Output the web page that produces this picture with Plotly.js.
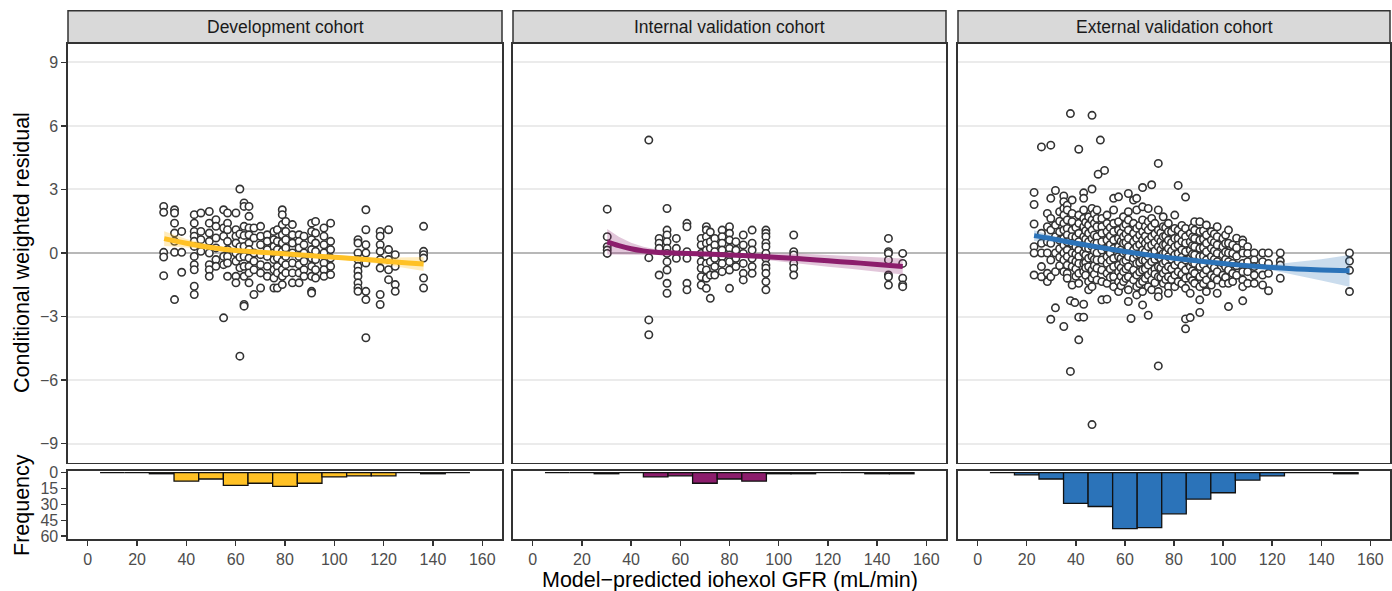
<!DOCTYPE html>
<html><head><meta charset="utf-8">
<script src="https://cdn.plot.ly/plotly-3.0.1.min.js"></script>
<style>html,body{margin:0;padding:0;background:#fff}#chart{width:1392px;height:591px}</style>
</head><body><div id="chart"></div>
<script>
// ---------------- DATA ----------------
const cohortNames = ['Development cohort', 'Internal validation cohort', 'External validation cohort'];
const cohortColors = ['#FFC125', '#8C1D6C', '#2B73B9'];
const bandColors = ['rgba(255,193,37,0.30)', 'rgba(140,29,108,0.25)', 'rgba(43,115,185,0.25)'];

// histogram bins (centres, width 10) and patient counts
const binCenters = [10, 20, 30, 40, 50, 60, 70, 80, 90, 100, 110, 120, 130, 140, 150];
const devCounts = [0, 0, 1, 8, 6, 12, 10, 13, 10, 4, 3, 3, 0, 1, 0];
const intCounts = [0, 0, 1, 0, 4, 3, 10, 6, 8, 1, 1, 0, 0, 1, 1];
const extCounts = [0, 2, 6, 29, 32, 53, 52, 39, 25, 19, 7, 3, 0, 0, 1];

// scatter: model-predicted GFR per individual and its residuals
const devGFR = [30.8, 35.2, 38.1, 43.2, 45.9, 49.3, 52.0, 55.1, 56.7, 60.1, 61.7, 63.4, 65.4, 67.4, 70.1, 72.8, 75.5, 76.9, 78.9, 80.3, 83.0, 85.7, 87.7, 90.8, 92.4, 95.8, 98.5, 109.6, 112.8, 118.6, 122.0, 124.7, 136.2];
const devResid = [
  [2.2, 1.92, 0.03, -0.19, -1.07],
  [2.04, 1.89, 1.41, 0.94, 0.55, 0.03, -2.2],
  [1.02, 0.03, -0.91],
  [1.81, 1.41, 1.02, 0.79, 0.55, 0.31, -0.16, -0.55, -0.79, -1.57, -1.96],
  [1.89, 1.02, 0.63, 0.08],
  [1.96, 1.41, 0.94, 0.55, 0, -0.55, -0.79, -1.1],
  [1.57, 1.26, 0.71, 0.24, -0.31, -0.63],
  [2.04, 1.18, 0.79, -0.16, -0.55, -3.06],
  [1.89, 1.41, 1.1, 0.55, 0.16, -0.16, -0.47, -1.1],
  [1.89, 1.1, 0.79, 0.47, 0, -0.39, -1.1, -1.41],
  [3.02, 0.9, 0.3, -0.2, -0.7, -4.87],
  [2.36, 2.2, 1.26, 0.83, 0.31, -0.16, -0.63, -1.1, -2.43, -2.51],
  [2.2, 1.73, 1.18, 0.86, 0.47, 0.16, -0.24, -0.63, -0.94, -1.41],
  [1.18, 0.71, 0, -0.39, -0.79, -1.96],
  [1.26, 0.79, 0.39, -0.08, -0.55, -0.94, -1.65],
  [0.86, 0.55, 0.16, -0.16, -0.63, -1.1],
  [1.02, 0.63, 0.31, 0, -0.31, -0.79, -1.18, -1.65],
  [1.1, 0.55, 0.16, -0.24, -0.63, -0.94, -1.65],
  [2.04, 1.81, 1.34, 0.86, 0.47, 0.08, -0.39, -0.79, -1.1, -1.49],
  [1.49, 1.02, 0.63, 0.24, -0.16, -0.55, -0.94],
  [1.34, 0.86, 0.47, 0, -0.47, -0.94, -1.41],
  [0.86, 0.55, 0.24, -0.16, -0.55, -0.94, -1.41],
  [0.79, 0.39, 0, -0.39, -0.79, -1.1],
  [1.41, 1.02, 0.63, 0.16, -0.24, -0.63, -1.1, -1.81, -1.89],
  [1.49, 0.94, 0.47, 0.08, -0.31, -0.79, -1.18],
  [1.18, 0.79, 0.39, 0, -0.47, -0.79, -1.1],
  [1.41, 0.55, 0.16, -0.24, -0.63, -1.02],
  [0.63, 0.47, 0, -0.31, -0.63, -0.86, -1.1, -1.41, -1.65, -1.81],
  [2.04, 1.1, 0.39, 0, -0.47, -1.81, -2.2, -4.0],
  [1.02, 0.79, 0.39, 0.08, -0.31, -0.71, -1.96, -2.43],
  [1.1, 0.16, -0.31, -0.79, -1.26],
  [-0.08, -0.63, -1.49, -1.81],
  [1.26, 0.08, -0.08, -0.24, -1.18, -1.65]
];

const intGFR = [30.3, 47.2, 51.4, 54.6, 58.4, 62.7, 68.5, 70.6, 72.2, 74.0, 77.0, 80.0, 82.6, 85.6, 89.2, 94.8, 106.1, 144.6, 150.4];
const intResid = [
  [2.07, 0.77, 0.3, 0.14, -0.02],
  [5.33, -0.22, -3.16, -3.86],
  [0.69, 0.46, 0.22, -1.04],
  [2.1, 1.08, 0.85, 0.53, 0.22, -0.02, -0.41, -0.8, -1.43, -1.9],
  [0.69, 0.22, -0.25],
  [1.4, 1.24, 0.06, -0.25, -1.43, -1.74],
  [0.69, 0.38, -0.02, -0.41, -0.72, -1.12, -1.51],
  [1.24, 1.08, 0.77, 0.46, 0.14, -0.17, -0.49, -0.8, -1.19, -1.67],
  [0.99, 0.53, 0.22, -0.41, -1.04, -2.14],
  [0.69, 0.38, 0.06, -0.25, -0.64, -1.04],
  [1.08, 0.77, 0.46, 0.14, -0.17, -0.49, -0.88],
  [1.24, 0.93, 0.61, 0.22, -0.09, -0.41, -0.8, -1.67],
  [0.53, 0.14, -0.25, -0.64],
  [0.85, 0.38, -0.02, -0.49, -0.96, -1.27],
  [1.08, 0.46, 0.14, -0.25, -0.64, -0.96],
  [1.08, 0.93, 0.77, 0.46, 0.3, -0.02, -0.25, -0.57, -0.72, -0.96, -1.35, -1.74],
  [0.85, 0.06, -0.09, -0.49, -0.72, -1.04],
  [0.69, 0.06, -0.02, -0.33, -1.04, -1.12, -1.51],
  [-0.02, -0.49, -1.19, -1.51, -1.59]
];

const extGFR = [23.0, 26.0, 28.4, 29.8, 31.7, 33.4, 35.1, 36.5, 37.8, 38.5, 39.6, 40.0, 41.2, 43.2, 44.0, 45.2, 46.6, 47.5, 48.6, 49.1, 50.0, 50.6, 51.7, 52.7, 54.0, 55.4, 57.4, 58.4, 59.4, 60.4, 61.4, 62.5, 63.5, 64.8, 66.0, 67.2, 68.3, 69.5, 70.9, 72.2, 73.6, 74.6, 75.6, 76.6, 77.7, 79.0, 80.3, 81.7, 83.2, 84.7, 86.6, 87.5, 88.4, 90.5, 92.0, 93.2, 95.2, 96.4, 97.6, 99.9, 101.0, 102.2, 103.9, 105.5, 108.0, 110.0, 112.7, 116.1, 118.5, 123.3, 151.5];
const extResid = [
  [2.86, 2.29, 1.37, 0.3, 0, -1.04],
  [5.01, 0.93, 0.46, 0, -0.64, -1.12],
  [1.87, 1.24, 0.53, 0, -0.96, -1.35],
  [5.09, 2.58, 1.63, 1.08, 0.46, -0.33, -1.12, -3.13],
  [2.95, 1.32, 0.77, 0, -0.88, -2.59],
  [1.95, 1.5, 1.0, 0.6, 0.2, -0.2, -0.6],
  [2.69, 2.42, 2.1, 1.79, 1.4, 1.08, 0.69, 0.38, 0, -0.33, -0.88, -3.47],
  [2.26, 2.03, 1.56, 1.16, 0.85, 0.53, 0.14, -0.17, -0.57, -0.96, -1.19],
  [6.58, -2.25, -5.59],
  [2.5, 1.87, 1.48, 1.08, 0.77, 0.46, 0, -0.33, -0.64, -1.51],
  [-2.34],
  [1.2, 0.75, 0.3, -0.05, -0.4, -0.75, -1.1],
  [4.9, 1.79, 1.4, 0.93, 0.53, 0.14, -0.17, -0.49, -0.96, -1.43, -3.03, -4.1],
  [2.84, 2.58, 2.03, 1.63, 1.24, 0.77, 0.38, 0, -0.49, -0.88, -2.42, -3.03],
  [1.45, 1.05, 0.65, 0.25, -0.1, -0.45, -0.7, -1.05],
  [1.71, 1.32, 0.93, 0.53, 0.22, -0.25, -0.64, -1.35, -1.74],
  [6.5, 3.02, 2.1, 1.56, 1.08, 0.69, 0.3, -0.17, -0.8, -1.19, -1.59, -8.1],
  [1.85, 1.4, 0.85, 0.45, 0.1, -0.3, -0.6, -1.0],
  [2.03, 1.63, 1.24, 0.77, 0.46, 0, -0.33, -0.72, -1.27],
  [3.72],
  [5.33],
  [1.63, 1.24, 0.93, 0.53, 0.14, -0.33, -0.8, -1.35, -2.21],
  [3.9],
  [1.79, 1.4, 1.01, 0.61, 0.22, -0.17, -0.49, -0.96, -1.43, -2.18],
  [1.2, 0.8, 0.4, 0.0, -0.35, -0.75, -1.15],
  [2.58, 2.03, 1.4, 1.01, 0.61, 0.22, -0.25, -0.64, -1.12, -1.59],
  [2.65, 1.48, 1.08, 0.69, 0.3, -0.17, -0.57, -0.88, -1.35, -1.82],
  [0.95, 0.55, 0.15, -0.25, -0.7, -1.1, -1.55],
  [1.71, 1.24, 0.77, 0.46, 0, -0.41, -0.88, -1.35],
  [1.35, 0.9, 0.5, 0.05, -0.35, -0.75, -1.2],
  [2.81, 1.95, 1.56, 1.08, 0.69, 0.3, -0.17, -0.64, -1.12, -1.74, -2.29],
  [-3.09],
  [2.5, 1.4, 0.93, 0.53, 0.14, -0.25, -0.8, -1.27],
  [2.58, 2.03, 1.16, 0.69, 0.3, -0.09, -0.49, -1.04, -1.59, -1.98],
  [1.3, 0.85, 0.4, -0.05, -0.45, -0.9, -1.45],
  [3.09, 2.18, 1.56, 1.01, 0.61, 0.14, -0.33, -0.8, -1.35, -1.82, -2.45],
  [1.25, 0.8, 0.45, 0.05, -0.35, -0.75, -1.2],
  [2.1, 1.48, 1.08, 0.61, 0.3, -0.17, -0.57, -1.04, -1.59, -2.94],
  [3.22, 1.63, 1.24, 0.77, 0.38, -0.02, -0.41, -0.88, -1.27, -1.74],
  [1.4, 0.9, 0.5, 0.1, -0.3, -0.75, -1.0, -1.4],
  [4.23, 2.03, 1.08, 0.69, 0.3, -0.17, -0.64, -1.12, -1.82, -2.06, -5.33],
  [0.95, 0.55, 0.15, -0.25, -0.7, -1.15],
  [1.71, 1.24, 0.77, 0.38, -0.02, -0.49, -0.96, -1.43],
  [1.2, 0.8, 0.4, 0.0, -0.4, -0.8, -1.25],
  [1.4, 1.01, 0.61, 0.22, -0.17, -0.64, -1.12, -1.59, -1.9],
  [1.0, 0.5, 0.1, -0.3, -0.75, -1.25],
  [1.79, 1.16, 0.69, 0.3, -0.09, -0.57, -1.04, -1.59],
  [3.19, 1.08, 0.69, 0.38, -0.02, -0.41, -0.88, -1.35],
  [1.3, 0.9, 0.55, 0.15, -0.2, -0.6, -1.0, -1.45],
  [2.64, 1.16, 0.77, 0.46, 0.06, -0.33, -0.8, -1.19, -1.67, -3.11, -3.58],
  [0.93, 0.53, 0.14, -0.25, -0.64, -1.12, -1.9, -3.05],
  [1.2, 0.75, 0.35, -0.05, -0.45, -0.85, -1.3],
  [1.48, 1.08, 0.69, 0.3, -0.09, -0.49, -0.96, -1.43],
  [1.48, 1.01, 0.61, 0.22, -0.17, -0.64, -1.12, -1.59, -2.21, -2.81],
  [1.05, 0.65, 0.25, -0.15, -0.55, -1.0, -1.45],
  [1.32, 0.85, 0.46, 0.06, -0.33, -0.8, -1.27, -1.82],
  [1.01, 0.61, 0.22, -0.17, -0.57, -1.04, -1.51],
  [0.9, 0.5, 0.1, -0.3, -0.7, -1.15],
  [1.24, 0.77, 0.38, -0.02, -0.41, -0.88, -1.27, -1.9],
  [0.69, 0.3, -0.09, -0.49, -1.04, -1.43],
  [0.85, 0.45, 0.05, -0.3, -0.65, -1.15],
  [1.08, 0.46, 0, -0.41, -0.8, -1.43, -2.53],
  [0.38, -0.02, -0.49, -0.96, -1.35],
  [0.7, 0.25, -0.15, -0.6, -1.05],
  [0.61, 0.46, 0, -0.49, -0.88, -1.27, -1.59, -2.26],
  [0.3, -0.02, -0.41, -0.88, -1.43],
  [0, -0.33, -0.64, -1.04, -1.43],
  [0, -0.41, -1.04, -1.51],
  [0, -0.49, -0.96, -1.78],
  [0, -0.38, -0.57, -1.19],
  [0, -0.38, -0.82, -1.82]
];

// smoothed trend (fitted value) with its confidence limits
const devSmoothX  = [31, 40, 50, 60, 70, 80, 90, 100, 110, 120, 130, 136.2];
const devSmoothY  = [0.68, 0.46, 0.26, 0.12, 0.04, -0.04, -0.12, -0.2, -0.28, -0.38, -0.47, -0.52];
const devSmoothLo = [0.33, 0.26, 0.14, 0.04, -0.04, -0.12, -0.2, -0.28, -0.38, -0.54, -0.72, -0.85];
const devSmoothHi = [1.03, 0.66, 0.38, 0.20, 0.12, 0.04, -0.04, -0.12, -0.18, -0.22, -0.22, -0.19];

const intSmoothX  = [30.3, 35, 40, 45, 50, 60, 70, 80, 90, 100, 110, 120, 130, 140, 150.4];
const intSmoothY  = [0.53, 0.35, 0.2, 0.1, 0.04, -0.01, -0.05, -0.09, -0.14, -0.21, -0.28, -0.37, -0.45, -0.54, -0.64];
const intSmoothLo = [-0.07, -0.07, -0.08, -0.1, -0.1, -0.11, -0.13, -0.17, -0.26, -0.39, -0.52, -0.65, -0.75, -0.87, -1.02];
const intSmoothHi = [1.13, 0.77, 0.48, 0.3, 0.18, 0.09, 0.03, -0.01, -0.02, -0.03, -0.04, -0.09, -0.15, -0.21, -0.26];

const extSmoothX  = [23, 30, 40, 50, 60, 70, 80, 90, 100, 110, 120, 130, 140, 151.5];
const extSmoothY  = [0.82, 0.68, 0.46, 0.26, 0.07, -0.1, -0.25, -0.38, -0.5, -0.6, -0.68, -0.75, -0.8, -0.84];
const extSmoothLo = [0.57, 0.53, 0.38, 0.21, 0.02, -0.15, -0.3, -0.43, -0.55, -0.66, -0.82, -1.07, -1.3, -1.59];
const extSmoothHi = [1.07, 0.83, 0.54, 0.31, 0.12, -0.05, -0.2, -0.33, -0.45, -0.54, -0.54, -0.43, -0.3, -0.09];

// axis ticks and labels
const residTicks = [-9, -6, -3, 0, 3, 6, 9];
const gfrTicks = [0, 20, 40, 60, 80, 100, 120, 140, 160];
const freqTicks = [0, 15, 30, 45, 60];
const yTitleMain = 'Conditional weighted residual';
const yTitleFreq = 'Frequency';
const xTitle = 'Model\u2212predicted iohexol GFR (mL/min)';

// ---------------- BUILD ----------------
const W = 1392, H = 591;
const panelPx = [[68, 502], [513, 946], [958, 1390]];
const stripPx = [10.7, 43.3];
const scatterPx = [43.3, 462.7];
const histPx = [471, 539];
const xd = p => [p[0] / W, p[1] / W];
const yd = p => [1 - p[1] / H, 1 - p[0] / H];
const FONT = 'Liberation Sans, Arial, Helvetica, sans-serif';
const minus = v => String(v).replace('-', '\u2212');

function flatten(cols, vals) {
  const x = [], y = [];
  cols.forEach((c, i) => vals[i].forEach(v => { x.push(c); y.push(v); }));
  return {x, y};
}

const cohorts = [
  {gfr: devGFR, res: devResid, counts: devCounts, sx: devSmoothX, sy: devSmoothY, lo: devSmoothLo, hi: devSmoothHi},
  {gfr: intGFR, res: intResid, counts: intCounts, sx: intSmoothX, sy: intSmoothY, lo: intSmoothLo, hi: intSmoothHi},
  {gfr: extGFR, res: extResid, counts: extCounts, sx: extSmoothX, sy: extSmoothY, lo: extSmoothLo, hi: extSmoothHi}
];

const traces = [];
const layout = {
  width: W, height: H, margin: {l: 0, r: 0, t: 0, b: 0},
  paper_bgcolor: '#fff', plot_bgcolor: '#fff', showlegend: false,
  font: {family: FONT},
  shapes: [], annotations: []
};

cohorts.forEach((c, i) => {
  const sxa = i === 0 ? 'x' : 'x' + (i + 1);
  const sya = i === 0 ? 'y' : 'y' + (i + 1);
  const hxa = 'x' + (i + 4), hya = 'y' + (i + 4);
  const pts = flatten(c.gfr, c.res);
  traces.push({type: 'scatter', mode: 'markers', x: pts.x, y: pts.y, xaxis: sxa, yaxis: sya,
    marker: {size: 7.4, color: '#fff', line: {color: '#333', width: 1.6}}, hoverinfo: 'skip'});
  traces.push({type: 'scatter', mode: 'lines', xaxis: sxa, yaxis: sya,
    x: c.sx.concat(c.sx.slice().reverse()), y: c.hi.concat(c.lo.slice().reverse()),
    fill: 'toself', fillcolor: bandColors[i], line: {width: 0, color: 'rgba(0,0,0,0)'}, hoverinfo: 'skip'});
  traces.push({type: 'scatter', mode: 'lines', x: c.sx, y: c.sy, xaxis: sxa, yaxis: sya,
    line: {color: cohortColors[i], width: 5, shape: 'spline'}, hoverinfo: 'skip'});
  traces.push({type: 'bar', x: binCenters, y: c.counts, width: 10, xaxis: hxa, yaxis: hya,
    marker: {color: cohortColors[i], line: {color: '#111', width: 1.3}}, hoverinfo: 'skip'});

  const axBase = {showline: true, mirror: true, linecolor: '#333', linewidth: 1.6,
    tickfont: {size: 16, color: '#4D4D4D', family: FONT}, ticklen: 5, tickwidth: 1.4, tickcolor: '#333'};
  const sk = i === 0 ? 'xaxis' : 'xaxis' + (i + 1);
  const yk = i === 0 ? 'yaxis' : 'yaxis' + (i + 1);
  layout[sk] = Object.assign({}, axBase, {domain: xd(panelPx[i]), anchor: sya, range: [-8, 168],
    showticklabels: false, ticks: '', showgrid: false, zeroline: false});
  layout[yk] = Object.assign({}, axBase, {domain: yd(scatterPx), anchor: sxa, range: [-9.9, 9.9],
    tickvals: residTicks, ticktext: residTicks.map(minus), showticklabels: i === 0, ticks: i === 0 ? 'outside' : '',
    showgrid: true, gridcolor: '#EBEBEB', gridwidth: 2, zeroline: true, zerolinecolor: '#B8B8B8', zerolinewidth: 2.6});
  layout['xaxis' + (i + 4)] = Object.assign({}, axBase, {domain: xd(panelPx[i]), anchor: hya, range: [-8, 168],
    tickvals: gfrTicks, ticks: 'outside', showgrid: false, zeroline: false});
  layout['yaxis' + (i + 4)] = Object.assign({}, axBase, {domain: yd(histPx), anchor: hxa, range: [62.8, -1.6],
    tickvals: freqTicks, showticklabels: i === 0, ticks: i === 0 ? 'outside' : '', showgrid: false, zeroline: false});

  const d = xd(panelPx[i]);
  layout.shapes.push({type: 'rect', xref: 'paper', yref: 'paper', x0: d[0], x1: d[1],
    y0: 1 - stripPx[1] / H, y1: 1 - stripPx[0] / H, fillcolor: '#D9D9D9', line: {color: '#333', width: 1.5}, layer: 'below'});
  layout.annotations.push({xref: 'paper', yref: 'paper', x: (d[0] + d[1]) / 2, y: 1 - (stripPx[0] + stripPx[1]) / 2 / H,
    text: cohortNames[i], showarrow: false, xanchor: 'center', yanchor: 'middle', font: {size: 17.5, color: '#1A1A1A', family: FONT}});
});

layout.annotations.push({xref: 'paper', yref: 'paper', x: 22 / W, y: 1 - (scatterPx[0] + scatterPx[1]) / 2 / H,
  text: yTitleMain, textangle: -90, showarrow: false, xanchor: 'center', yanchor: 'middle', font: {size: 21.5, color: '#000', family: FONT}});
layout.annotations.push({xref: 'paper', yref: 'paper', x: 22 / W, y: 1 - (histPx[0] + histPx[1]) / 2 / H,
  text: yTitleFreq, textangle: -90, showarrow: false, xanchor: 'center', yanchor: 'middle', font: {size: 21.5, color: '#000', family: FONT}});
layout.annotations.push({xref: 'paper', yref: 'paper', x: (panelPx[1][0] + panelPx[1][1]) / 2 / W, y: 1 - 579.5 / H,
  text: xTitle, showarrow: false, xanchor: 'center', yanchor: 'middle', font: {size: 21.5, color: '#000', family: FONT}});

Plotly.newPlot('chart', traces, layout, {staticPlot: true, displayModeBar: false});
</script></body></html>
